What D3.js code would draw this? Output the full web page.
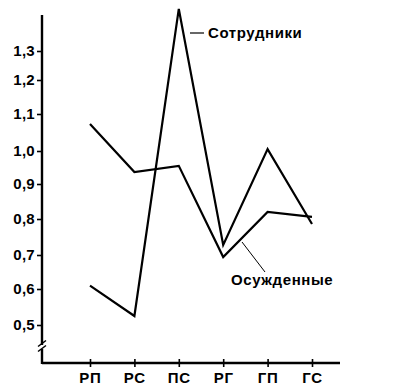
<!DOCTYPE html>
<html>
<head>
<meta charset="utf-8">
<script src="https://cdn.jsdelivr.net/npm/d3@7"></script>
<style>
  body { margin: 0; background: #fff; }
  text { font-family: "Liberation Sans", Arial, sans-serif; font-weight: bold; }
</style>
</head>
<body>
<div id="vis"></div>
<script>
// categories and series
let categories = ['РП', 'РС', 'ПС', 'РГ', 'ГП', 'ГС']
let staff = [0.61, 0.525, 1.445, 0.728, 1.005, 0.786]      // Сотрудники
let convicts = [1.073, 0.936, 0.955, 0.694, 0.82, 0.806]   // Осужденные
let yTicks = [0.5, 0.6, 0.7, 0.8, 0.9, 1.0, 1.1, 1.2, 1.3]

let width = 400, height = 389

let svg = d3.select('#vis')
  .append('svg')
  .attr('width', width)
  .attr('height', height)

// hand drawn tick spacing is uneven, so the scale follows it piece by piece
let y = d3.scaleLinear()
  .domain(yTicks)
  .range([325, 289, 255, 219, 184, 151, 114, 80, 51])

let x = d3.scalePoint()
  .domain(categories)
  .range([90, 312])

let x0 = 42, yBase = 363

// y axis
let yAxis = svg.append('g')
  .attr('transform', `translate(${x0},0)`)
  .call(d3.axisLeft(y).tickValues(yTicks).tickSize(5).tickPadding(2)
    .tickFormat(d => d3.format('.1f')(d).replace('.', ',')))
yAxis.select('.domain').remove()
yAxis.selectAll('line').attr('stroke', '#000').attr('stroke-width', 1.6)
yAxis.selectAll('text').style('font-size', '15px').attr('fill', '#000').attr('letter-spacing', 0.3)

svg.append('line')
  .attr('x1', x0).attr('x2', x0)
  .attr('y1', 15).attr('y2', yBase + 1)
  .attr('stroke', '#000').attr('stroke-width', 2.4)

// axis break
svg.append('rect').attr('x', x0 - 3).attr('y', 345).attr('width', 6).attr('height', 4).attr('fill', '#fff')
;[343.5, 348.5].forEach(yy => {
  svg.append('line')
    .attr('x1', x0 - 4).attr('y1', yy + 3)
    .attr('x2', x0 + 4).attr('y2', yy - 3)
    .attr('stroke', '#000').attr('stroke-width', 1.5)
})

// x axis
let xAxis = svg.append('g')
  .attr('transform', `translate(0,${yBase})`)
  .call(d3.axisBottom(x).tickSize(4).tickPadding(5))
xAxis.select('.domain').remove()
xAxis.selectAll('line').attr('y1', -4).attr('stroke', '#000').attr('stroke-width', 1.6)
xAxis.selectAll('text').style('font-size', '15px').attr('fill', '#000').attr('letter-spacing', 0.8)

svg.append('line')
  .attr('x1', x0).attr('x2', 340)
  .attr('y1', yBase).attr('y2', yBase)
  .attr('stroke', '#000').attr('stroke-width', 2.4)

// series
let line = d3.line()
  .x((d, i) => x(categories[i]))
  .y(d => y(d))

;[staff, convicts].forEach(s => {
  svg.append('path')
    .attr('d', line(s))
    .attr('fill', 'none')
    .attr('stroke', '#000')
    .attr('stroke-width', 2.2)
    .attr('stroke-linejoin', 'miter')
})

// labels with leader lines
svg.append('line')
  .attr('x1', 190).attr('y1', 33).attr('x2', 204).attr('y2', 33)
  .attr('stroke', '#000').attr('stroke-width', 1.2)
svg.append('text')
  .attr('x', 208).attr('y', 38)
  .style('font-size', '15px')
  .attr('letter-spacing', 0.6)
  .text('Сотрудники')

svg.append('line')
  .attr('x1', 242).attr('y1', 242).attr('x2', 265).attr('y2', 272)
  .attr('stroke', '#000').attr('stroke-width', 1)
svg.append('text')
  .attr('x', 231).attr('y', 285)
  .style('font-size', '15px')
  .attr('letter-spacing', 0.6)
  .text('Осужденные')
</script>
</body>
</html>
